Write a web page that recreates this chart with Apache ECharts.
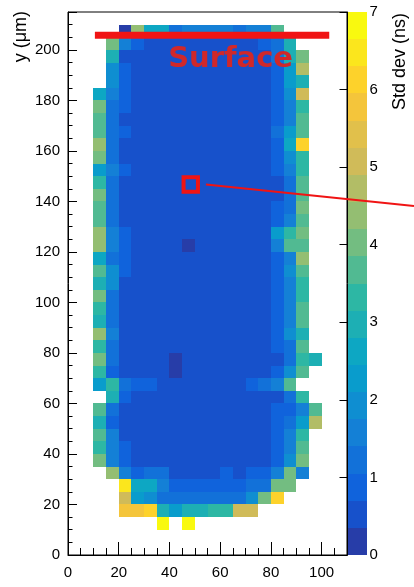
<!DOCTYPE html>
<html>
<head>
<meta charset="utf-8">
<script src="https://cdn.jsdelivr.net/npm/echarts@6/dist/echarts.min.js"></script>
<style>
  html, body { margin: 0; padding: 0; background: #fff; }
  #chart { width: 414px; height: 587px; }
</style>
</head>
<body>
<div id="chart"></div>
<script>
// bin size in um, both directions
var binW = 5;

// lower edge (y) of each row, top row first
var rowY = [205, 200, 195, 190, 185, 180, 175, 170, 165, 160, 155, 150, 145, 140, 135, 130,
            125, 120, 115, 110, 105, 100, 95, 90, 85, 80, 75, 70, 65, 60, 55, 50, 45, 40,
            35, 30, 25, 20, 15, 10];

// lower edge (x) of the first filled bin in each row
var rowX0 = [20, 15, 15, 15, 15, 10, 10, 10, 10, 10, 10, 10, 10, 10, 10, 10,
             10, 10, 10, 10, 10, 10, 10, 10, 10, 10, 10, 10, 10, 15, 10, 10, 10, 10,
             10, 15, 20, 20, 20, 35];

// std dev of the timing (ns), one list per row, read left to right
var stdDev = [
  [0.2, 4.4, 2.6, 2.6, 1.2, 1.6, 1.6, 1.6, 1.6, 1.2, 1.6, 1.6, 3.7],
  [4.0, 1.6, 0.9, 0.5, 0.5, 0.5, 0.5, 0.5, 0.5, 0.5, 0.5, 0.5, 0.9, 1.2, 3.0],
  [3.0, 0.5, 0.5, 0.5, 0.5, 0.5, 0.5, 0.5, 0.5, 0.5, 0.5, 0.5, 0.5, 1.2, 3.0, 4.0],
  [1.9, 0.9, 0.5, 0.5, 0.5, 0.5, 0.5, 0.5, 0.5, 0.5, 0.5, 0.5, 0.5, 0.9, 2.3, 4.7],
  [1.9, 0.9, 0.5, 0.5, 0.5, 0.5, 0.5, 0.5, 0.5, 0.5, 0.5, 0.5, 0.5, 0.9, 2.3, 3.0],
  [2.6, 1.6, 0.9, 0.5, 0.5, 0.5, 0.5, 0.5, 0.5, 0.5, 0.5, 0.5, 0.5, 0.5, 0.9, 1.9, 5.1],
  [4.0, 1.2, 0.9, 0.5, 0.5, 0.5, 0.5, 0.5, 0.5, 0.5, 0.5, 0.5, 0.5, 0.5, 0.9, 1.6, 3.3],
  [3.7, 1.2, 0.5, 0.5, 0.5, 0.5, 0.5, 0.5, 0.5, 0.5, 0.5, 0.5, 0.5, 0.5, 0.9, 1.6, 3.7],
  [3.7, 1.2, 0.9, 0.5, 0.5, 0.5, 0.5, 0.5, 0.5, 0.5, 0.5, 0.5, 0.5, 0.5, 1.2, 2.3, 3.7],
  [4.4, 1.2, 0.5, 0.5, 0.5, 0.5, 0.5, 0.5, 0.5, 0.5, 0.5, 0.5, 0.5, 0.5, 0.9, 2.6, 6.1],
  [4.0, 1.2, 0.5, 0.5, 0.5, 0.5, 0.5, 0.5, 0.5, 0.5, 0.5, 0.5, 0.5, 0.5, 0.9, 1.9, 3.3],
  [2.3, 1.6, 0.9, 0.5, 0.5, 0.5, 0.5, 0.5, 0.5, 0.5, 0.5, 0.5, 0.5, 0.5, 0.9, 1.6, 3.3],
  [3.3, 1.2, 0.5, 0.5, 0.5, 0.5, 0.5, 0.5, 0.5, 0.5, 0.5, 0.5, 0.5, 0.5, 0.5, 1.2, 3.7],
  [4.0, 1.2, 0.5, 0.5, 0.5, 0.5, 0.5, 0.5, 0.5, 0.5, 0.5, 0.5, 0.5, 0.5, 0.5, 1.2, 3.7],
  [3.7, 1.2, 0.5, 0.5, 0.5, 0.5, 0.5, 0.5, 0.5, 0.5, 0.5, 0.5, 0.5, 0.5, 0.9, 1.2, 4.0],
  [3.7, 1.2, 0.5, 0.5, 0.5, 0.5, 0.5, 0.5, 0.5, 0.5, 0.5, 0.5, 0.5, 0.5, 0.9, 1.6, 3.7],
  [4.4, 1.6, 0.9, 0.5, 0.5, 0.5, 0.5, 0.5, 0.5, 0.5, 0.5, 0.5, 0.5, 0.5, 2.3, 3.3, 4.0],
  [4.4, 1.6, 0.9, 0.5, 0.5, 0.5, 0.5, 0.2, 0.5, 0.5, 0.5, 0.5, 0.5, 0.5, 1.6, 3.7, 3.7],
  [2.6, 1.2, 0.9, 0.5, 0.5, 0.5, 0.5, 0.5, 0.5, 0.5, 0.5, 0.5, 0.5, 0.5, 0.9, 1.6, 4.4],
  [3.7, 1.9, 0.9, 0.5, 0.5, 0.5, 0.5, 0.5, 0.5, 0.5, 0.5, 0.5, 0.5, 0.5, 0.9, 1.9, 3.7],
  [3.0, 1.9, 0.5, 0.5, 0.5, 0.5, 0.5, 0.5, 0.5, 0.5, 0.5, 0.5, 0.5, 0.5, 0.9, 1.6, 3.3],
  [4.0, 1.2, 0.5, 0.5, 0.5, 0.5, 0.5, 0.5, 0.5, 0.5, 0.5, 0.5, 0.5, 0.5, 0.9, 1.6, 3.3],
  [3.3, 1.2, 0.5, 0.5, 0.5, 0.5, 0.5, 0.5, 0.5, 0.5, 0.5, 0.5, 0.5, 0.5, 0.9, 1.6, 3.7],
  [3.0, 1.2, 0.5, 0.5, 0.5, 0.5, 0.5, 0.5, 0.5, 0.5, 0.5, 0.5, 0.5, 0.5, 0.9, 1.6, 3.7],
  [4.4, 1.6, 0.5, 0.5, 0.5, 0.5, 0.5, 0.5, 0.5, 0.5, 0.5, 0.5, 0.5, 0.5, 0.9, 1.9, 3.0],
  [3.3, 1.2, 0.5, 0.5, 0.5, 0.5, 0.5, 0.5, 0.5, 0.5, 0.5, 0.5, 0.5, 0.5, 0.9, 1.2, 3.7],
  [4.0, 1.2, 0.5, 0.5, 0.5, 0.5, 0.2, 0.5, 0.5, 0.5, 0.5, 0.5, 0.5, 0.5, 0.5, 1.2, 3.3, 3.0],
  [3.3, 0.9, 0.5, 0.5, 0.5, 0.5, 0.2, 0.5, 0.5, 0.5, 0.5, 0.5, 0.5, 0.5, 0.9, 1.9, 3.7],
  [2.3, 3.3, 1.2, 0.9, 0.9, 0.5, 0.5, 0.5, 0.5, 0.5, 0.5, 0.5, 0.9, 1.2, 1.6, 3.7],
  [3.0, 0.9, 0.5, 0.5, 0.5, 0.5, 0.5, 0.5, 0.5, 0.5, 0.5, 0.5, 0.5, 0.5, 1.2, 3.3],
  [3.7, 1.2, 0.5, 0.5, 0.5, 0.5, 0.5, 0.5, 0.5, 0.5, 0.5, 0.5, 0.5, 0.5, 0.9, 0.9, 1.6, 3.7],
  [3.0, 0.9, 0.5, 0.5, 0.5, 0.5, 0.5, 0.5, 0.5, 0.5, 0.5, 0.5, 0.5, 0.5, 0.9, 1.2, 2.3, 4.7],
  [3.7, 1.6, 0.5, 0.5, 0.5, 0.5, 0.5, 0.5, 0.5, 0.5, 0.5, 0.5, 0.5, 0.5, 0.9, 1.6, 3.3],
  [3.3, 1.6, 0.9, 0.5, 0.5, 0.5, 0.5, 0.5, 0.5, 0.5, 0.5, 0.5, 0.5, 0.5, 0.9, 1.6, 3.7],
  [4.0, 1.6, 0.9, 0.5, 0.5, 0.5, 0.5, 0.5, 0.5, 0.5, 0.5, 0.5, 0.5, 0.5, 0.9, 1.9, 4.0],
  [4.4, 1.6, 0.9, 1.2, 1.2, 0.5, 0.5, 0.5, 0.5, 0.9, 0.5, 0.9, 0.9, 1.6, 4.0, 1.6],
  [6.5, 2.6, 2.6, 1.6, 0.9, 0.9, 0.9, 0.9, 0.9, 0.9, 1.2, 1.2, 4.0, 4.0],
  [5.1, 2.3, 1.9, 1.2, 1.2, 1.2, 1.2, 1.2, 1.2, 1.2, 1.9, 4.0, 6.1],
  [5.8, 5.8, 6.1, 3.0, 2.3, 3.0, 3.0, 3.3, 3.3, 5.1, 5.1],
  [6.8, null, 6.8]
];

// z scale: 20 contour levels from 0 to 7 ns
var zMax = 7;
var nLevels = 20;
var zTickStep = 1;

// annotation positions (um)
var surfaceY = 205.8;
var surfaceX = [10.6, 103];
var markerPos = [48.4, 146.7];
var pointerStart = [54.4, 146.7];

// ROOT kBird palette
var birdStops = [0.0, 0.125, 0.25, 0.375, 0.5, 0.625, 0.75, 0.875, 1.0];
var birdR = [0.2082, 0.0592, 0.0780, 0.0232, 0.1802, 0.5301, 0.8186, 0.9956, 0.9764];
var birdG = [0.1664, 0.3599, 0.5041, 0.6419, 0.7178, 0.7492, 0.7328, 0.7862, 0.9832];
var birdB = [0.5293, 0.8684, 0.8385, 0.7914, 0.6425, 0.4662, 0.3499, 0.1968, 0.0539];

function birdColor(t) {
    var k = 1;
    while (k < birdStops.length - 1 && t > birdStops[k]) k++;
    var f = (t - birdStops[k - 1]) / (birdStops[k] - birdStops[k - 1]);
    var c = function (arr) { return Math.round(255 * (arr[k - 1] + (arr[k] - arr[k - 1]) * f)); };
    return 'rgb(' + c(birdR) + ',' + c(birdG) + ',' + c(birdB) + ')';
}

var levelW = zMax / nLevels;
var pieces = [];
var bandData = [];
for (var i = 0; i < nLevels; i++) {
    var idx = Math.floor((i + 0.99) * 255 / nLevels);
    var piece = { gte: i * levelW, color: birdColor(idx / 255) };
    if (i === nLevels - 1) piece.lte = zMax; else piece.lt = (i + 1) * levelW;
    pieces.push(piece);
    bandData.push([i * levelW, (i + 1) * levelW, (i + 0.5) * levelW]);
}

var cells = [];
stdDev.forEach(function (row, r) {
    row.forEach(function (v, j) {
        if (v !== null) cells.push([rowX0[r] + j * binW, rowY[r], v]);
    });
});

// snap to whole pixels so neighbouring bins meet without seams
function pixelRect(tl, br, color) {
    var x = Math.round(tl[0]), y = Math.round(tl[1]);
    return {
        type: 'rect',
        shape: { x: x, y: y, width: Math.round(br[0]) - x, height: Math.round(br[1]) - y },
        style: { fill: color, stroke: null }
    };
}

function renderCell(params, api) {
    var x0 = api.value(0), y0 = api.value(1);
    return pixelRect(api.coord([x0, y0 + binW]), api.coord([x0 + binW, y0]), api.visual('color'));
}

function renderBand(params, api) {
    return pixelRect(api.coord([0, api.value(1)]), api.coord([1, api.value(0)]), api.visual('color'));
}

var fontName = '"Liberation Sans", Arial, sans-serif';
var tickLabel = { color: '#000', fontSize: 15, fontFamily: fontName };
var every20 = function (v) { return v % 20 === 0 ? String(v) : ''; };

var chart = echarts.init(document.getElementById('chart'));
var option = {
    animation: false,
    grid: [
        { left: 68, top: 12, width: 279, height: 543, show: true, borderColor: '#000', borderWidth: 1, z: 3 },
        { left: 347.5, top: 12, width: 19, height: 543 }
    ],
    xAxis: [
        {
            gridIndex: 0, type: 'value', min: 0, max: 110, interval: 20, position: 'bottom',
            axisLine: { lineStyle: { color: '#000' } },
            axisTick: { inside: true, length: 13, lineStyle: { color: '#000' } },
            axisLabel: Object.assign({ margin: 10, formatter: every20 }, tickLabel),
            splitLine: { show: false }
        },
        {
            gridIndex: 0, type: 'value', min: 0, max: 110, interval: 5, position: 'bottom',
            axisLine: { show: false },
            axisTick: { inside: true, length: 7, lineStyle: { color: '#000' } },
            axisLabel: { show: false },
            splitLine: { show: false }
        },
        { gridIndex: 1, type: 'value', min: 0, max: 1, show: false }
    ],
    yAxis: [
        {
            gridIndex: 0, type: 'value', min: 0, max: 215, interval: 20, position: 'left',
            axisLine: { show: true, lineStyle: { color: '#000' } },
            axisTick: { inside: true, length: 9, lineStyle: { color: '#000' } },
            axisLabel: Object.assign({ margin: 8, formatter: every20 }, tickLabel),
            splitLine: { show: false }
        },
        {
            gridIndex: 0, type: 'value', min: 0, max: 215, interval: 5, position: 'left',
            axisLine: { show: false },
            axisTick: { inside: true, length: 4.5, lineStyle: { color: '#000' } },
            axisLabel: { show: false },
            splitLine: { show: false }
        },
        {
            gridIndex: 1, type: 'value', min: 0, max: zMax, interval: zTickStep, position: 'right',
            axisLine: { show: true, lineStyle: { color: '#000' } },
            axisTick: { inside: true, length: 8, lineStyle: { color: '#000' } },
            axisLabel: Object.assign({ margin: 3 }, tickLabel),
            splitLine: { show: false }
        }
    ],
    visualMap: {
        type: 'piecewise', show: false, dimension: 2, seriesIndex: [0, 1], pieces: pieces
    },
    series: [
        { type: 'custom', xAxisIndex: 0, yAxisIndex: 0, data: cells, renderItem: renderCell, silent: true },
        { type: 'custom', xAxisIndex: 2, yAxisIndex: 2, data: bandData, renderItem: renderBand, silent: true }
    ]
};
chart.setOption(option);

function toPx(p) {
    return chart.convertToPixel({ xAxisIndex: 0, yAxisIndex: 0 }, p);
}

var lineA = toPx([surfaceX[0], surfaceY]);
var lineB = toPx([surfaceX[1], surfaceY]);
var mk = toPx(markerPos);
var ptr = toPx(pointerStart);
var label = toPx([64.1, 196.2]);

chart.setOption({
    graphic: [
        {
            type: 'text', x: 21, y: 11, rotation: Math.PI / 2,
            style: { text: 'y (μm)', font: '18px ' + fontName, fill: '#000',
                     textAlign: 'right', align: 'right', textVerticalAlign: 'middle', verticalAlign: 'middle' }
        },
        {
            type: 'text', x: 400, y: 13, rotation: Math.PI / 2,
            style: { text: 'Std dev (ns)', font: '18px ' + fontName, fill: '#000',
                     textAlign: 'right', align: 'right', textVerticalAlign: 'middle', verticalAlign: 'middle' }
        },
        {
            type: 'line', z: 100,
            shape: { x1: lineA[0], y1: lineA[1], x2: lineB[0], y2: lineB[1] },
            style: { stroke: '#f01414', lineWidth: 7 }
        },
        {
            type: 'text', z: 100, x: label[0], y: label[1],
            style: { text: 'Surface', font: 'bold 29px "DejaVu Sans", sans-serif', fill: '#d0282a',
                     textAlign: 'center', align: 'center', textVerticalAlign: 'middle', verticalAlign: 'middle' }
        },
        {
            type: 'rect', z: 100,
            shape: { x: mk[0] - 7.2, y: mk[1] - 7.2, width: 14.4, height: 14.4 },
            style: { fill: null, stroke: '#f01414', lineWidth: 4 }
        },
        {
            type: 'line', z: 100,
            shape: { x1: ptr[0], y1: ptr[1], x2: 414, y2: 206 },
            style: { stroke: '#f01414', lineWidth: 2 }
        }
    ]
});
</script>
</body>
</html>
